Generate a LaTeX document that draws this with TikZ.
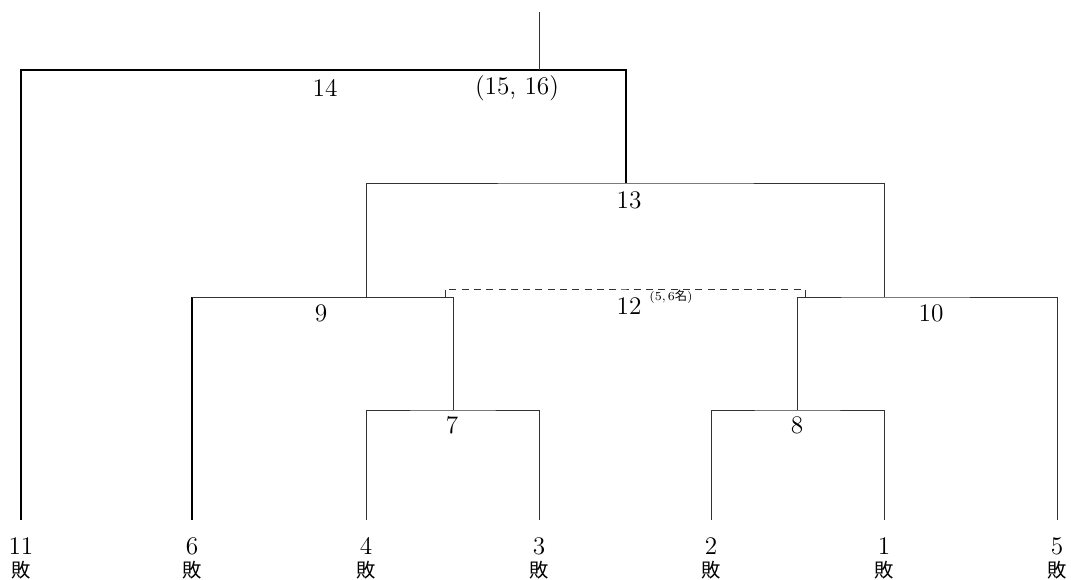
\documentclass[tikz,border=0pt]{standalone}
\usepackage{fontspec}
\newfontfamily\cjk{Noto Sans CJK JP}
\tikzset{
	turnier/.style={x=0.02cm, y=-0.02cm, font=\Large},
	linie/.style={draw=black!80, line width=0.55pt},
	dicklinie/.style={draw=black, line width=0.9pt},
	gestrichelt/.style={draw=black!80, line width=0.55pt, dash pattern=on 4pt off 3pt},
	runde/.style={inner sep=1pt},
	nummer/.style={font=\Large, inner sep=0pt},
	bai/.style={font=\cjk\fontsize{11}{11}\selectfont, inner sep=0pt},
	hinweis/.style={font=\scriptsize, inner sep=0pt, anchor=west},
}

\begin{document}
\begin{tikzpicture}[turnier]
\useasboundingbox (0,0) rectangle (1071,580);

% Spieler unten
\node[nummer] (n11) at (21,546) {11};
\node[bai] (b11) at (21,570) {敗};
\node[nummer] (n6) at (192,546) {6};
\node[bai] (b6) at (192,570) {敗};
\node[nummer] (n4) at (366,546) {4};
\node[bai] (b4) at (366,570) {敗};
\node[nummer] (n3) at (539,546) {3};
\node[bai] (b3) at (539,570) {敗};
\node[nummer] (n2) at (711,546) {2};
\node[bai] (b2) at (711,570) {敗};
\node[nummer] (n1) at (884,546) {1};
\node[bai] (b1) at (884,570) {敗};
\node[nummer] (n5) at (1057,546) {5};
\node[bai] (b5) at (1057,570) {敗};

\coordinate (t11) at (21,520);
\coordinate (t6) at (192,520);
\coordinate (t4) at (366,520);
\coordinate (t3) at (539,520);
\coordinate (t2) at (711,520);
\coordinate (t1) at (884,520);
\coordinate (t5) at (1057,520);

% Stiele der Spiele
\coordinate (s7) at (453,410);
\coordinate (s8) at (797,410);
\coordinate (s9) at (366,297);
\coordinate (s10) at (884,297);
\coordinate (s13) at (626,183);
\coordinate (s14) at (539,70);
\coordinate (oben) at (539,12);
\coordinate (d12) at (625,289);
\coordinate (d12l) at (445,297);
\coordinate (d12r) at (805,297);

\draw[linie] (t4) |- (s7) -| (t3);
\draw[linie] (t2) |- (s8) -| (t1);
\draw[linie] (s9) -| (s7);
\draw[dicklinie] (t6) -- (t6 |- s9);
\draw[linie] (t6 |- s9) -- (s9);
\draw[linie] (s8) |- (s10) -| (t5);
\draw[linie] (s9) |- (s13) -| (s10);
\draw[dicklinie] (t11) |- (s14);
\draw[dicklinie] (s14) -| (s13);
\draw[linie] (s14) -- (oben);
\draw[gestrichelt] (d12l) |- (d12) -| (d12r);

% Spielnummern
\node[runde] (r7) at (452,425) {7};
\node[runde] (r8) at (797,425) {8};
\node[runde] (r9) at (321,313) {9};
\node[runde] (r10) at (931,313) {10};
\node[runde] (r12) at (629,306) {12};
\node[hinweis] (h12) at (649,297) {(5,\,6{\cjk 名})};
\node[runde] (r13) at (629,200) {13};
\node[runde] (r14) at (325,88) {14};
\node[runde] (r1516) at (517,88) {(15, 16)};

\end{tikzpicture}
\end{document}
